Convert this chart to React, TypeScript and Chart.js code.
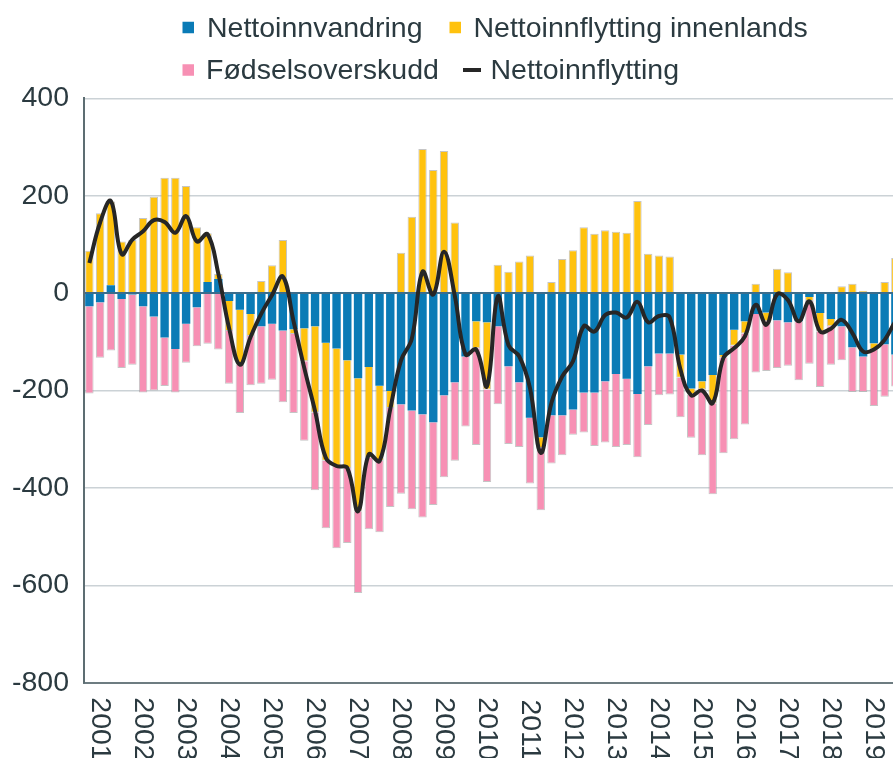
import React, { useEffect, useRef } from "react";
import { Chart, registerables } from "chart.js";

Chart.register(...registerables);

// Quarters (K = kvartal)
const quarters = [
  "2000K4",
  "2001K1","2001K2","2001K3","2001K4",
  "2002K1","2002K2","2002K3","2002K4",
  "2003K1","2003K2","2003K3","2003K4",
  "2004K1","2004K2","2004K3","2004K4",
  "2005K1","2005K2","2005K3","2005K4",
  "2006K1","2006K2","2006K3","2006K4",
  "2007K1","2007K2","2007K3","2007K4",
  "2008K1","2008K2","2008K3","2008K4",
  "2009K1","2009K2","2009K3","2009K4",
  "2010K1","2010K2","2010K3","2010K4",
  "2011K1","2011K2","2011K3","2011K4",
  "2012K1","2012K2","2012K3","2012K4",
  "2013K1","2013K2","2013K3","2013K4",
  "2014K1","2014K2","2014K3","2014K4",
  "2015K1","2015K2","2015K3","2015K4",
  "2016K1","2016K2","2016K3","2016K4",
  "2017K1","2017K2","2017K3","2017K4",
  "2018K1","2018K2","2018K3","2018K4",
  "2019K1","2019K2","2019K3","2019K4",
];

const nettoinnvandring = [
  -27, -19, 16, -12, -3, -27, -48, -91, -115, -63,
  -29, 23, 29, -16, -34, -43, -68, -63, -77, -74,
  -72, -68, -102, -114, -138, -175, -152, -190, -201, -228,
  -241, -249, -265, -210, -183, -130, -58, -60, -68, -150,
  -183, -256, -296, -251, -251, -239, -204, -204, -181, -166,
  -176, -207, -150, -124, -124, -126, -196, -181, -168, -127,
  -75, -58, -43, -40, -56, -60, -58, -8, -41, -53,
  -68, -111, -130, -103, -105, -126, -95,
];

const innenlands = [
  87, 164, 172, 106, 109, 154, 198, 237, 237, 220,
  135, 100, 10, -62, -113, -45, 25, 57, 109, -10,
  -68, -177, -242, -241, -221, -273, -186, -155, -35, 83,
  157, 296, 253, 292, 145, 0, -55, -138, 58, 44,
  65, 77, -22, 23, 70, 88, 135, 122, 129, 126,
  124, 189, 81, 77, 75, -48, -12, -17, -58, -6,
  -33, -25, 19, -18, 50, 43, 0, -8, -38, -15,
  14, 19, 5, -13, 23, 72, 35,
];

const fodselsoverskudd = [
  -179, -114, -118, -142, -144, -177, -152, -100, -89, -80,
  -80, -104, -116, -108, -99, -101, -118, -115, -147, -162,
  -163, -160, -139, -169, -154, -168, -147, -146, -203, -184,
  -203, -212, -170, -168, -161, -144, -199, -190, -160, -160,
  -133, -135, -128, -99, -82, -52, -82, -110, -126, -150,
  -136, -130, -121, -86, -84, -81, -89, -135, -187, -196,
  -192, -187, -120, -102, -98, -89, -121, -129, -114, -79,
  -70, -92, -73, -116, -108, -66, -100,
];

const nettoinnflytting = [
  62, 145, 189, 80, 110, 127, 150, 146, 124, 158,
  106, 121, 40, -72, -147, -90, -42, -4, 34, -58,
  -154, -242, -338, -355, -359, -448, -331, -345, -238, -138,
  -94, 44, -3, 85, -5, -126, -116, -191, -7, -107,
  -130, -195, -328, -225, -171, -140, -68, -79, -45, -40,
  -50, -18, -60, -47, -50, -157, -210, -200, -226, -133,
  -113, -89, -24, -65, -2, -14, -58, -17, -79, -73,
  -55, -82, -120, -116, -96, -58, -30,
];

const seriesNames = [
  "Nettoinnvandring",
  "Nettoinnflytting innenlands",
  "Fødselsoverskudd",
  "Nettoinnflytting",
];

const BLUE = "#0a7bb6";
const YELLOW = "#ffc20e";
const PINK = "#f790b4";
const LINE = "#262626";
const EDGE = "rgba(150,150,150,0.55)";
const TEXT = "#2b3a40";
const FONT_FAMILY = '"Liberation Sans", Arial, Helvetica, sans-serif';
const FONT_SIZE = 28.5;

// legend placement (marker x, marker y centre, text x, text baseline)
const legendLayout = [
  { ds: 0, mx: 182.5, my: 27.5, tx: 207, ty: 37 },
  { ds: 1, mx: 449.5, my: 27.5, tx: 473.5, ty: 37 },
  { ds: 2, mx: 182.5, my: 70, tx: 206, ty: 79 },
  { ds: 3, mx: 463, my: 70, tx: 490.5, ty: 79 },
];

const legendPlugin = {
  id: "customLegend",
  afterDraw(chart: any) {
    const ctx = chart.ctx;
    ctx.save();
    ctx.font = `${FONT_SIZE}px ${FONT_FAMILY}`;
    ctx.textBaseline = "alphabetic";
    ctx.textAlign = "left";
    legendLayout.forEach((it) => {
      const ds = chart.data.datasets[it.ds];
      if (ds.type === "line") {
        ctx.strokeStyle = ds.borderColor;
        ctx.lineWidth = 4;
        ctx.beginPath();
        ctx.moveTo(it.mx, it.my);
        ctx.lineTo(it.mx + 18, it.my);
        ctx.stroke();
      } else {
        ctx.fillStyle = ds.backgroundColor;
        ctx.fillRect(it.mx, it.my - 5.75, 11.5, 11.5);
      }
      ctx.fillStyle = TEXT;
      ctx.fillText(ds.label, it.tx, it.ty);
    });
    ctx.restore();
  },
};

export default function App() {
  const canvasRef = useRef<HTMLCanvasElement | null>(null);

  useEffect(() => {
    if (!canvasRef.current) return;
    Chart.defaults.font.family = FONT_FAMILY;
    Chart.defaults.font.size = FONT_SIZE;
    Chart.defaults.color = TEXT;

    const chart = new Chart(canvasRef.current, {
      data: {
        labels: quarters,
        datasets: [
          {
            type: "bar",
            label: seriesNames[0],
            data: nettoinnvandring,
            backgroundColor: BLUE,
            borderWidth: 0,
            stack: "bars",
            order: 1,
          },
          {
            type: "bar",
            label: seriesNames[1],
            data: innenlands,
            backgroundColor: YELLOW,
            borderColor: EDGE,
            borderWidth: 1,
            stack: "bars",
            order: 1,
          },
          {
            type: "bar",
            label: seriesNames[2],
            data: fodselsoverskudd,
            backgroundColor: PINK,
            borderColor: EDGE,
            borderWidth: 1,
            stack: "bars",
            order: 1,
          },
          {
            type: "line",
            label: seriesNames[3],
            data: nettoinnflytting,
            borderColor: LINE,
            backgroundColor: LINE,
            borderWidth: 4,
            pointRadius: 0,
            tension: 0.4,
            fill: false,
            stack: "line",
            order: 0,
          },
        ],
      } as any,
      options: {
        animation: false,
        responsive: false,
        locale: "en-US",
        datasets: {
          bar: { barPercentage: 0.78, categoryPercentage: 1 },
        },
        layout: { padding: { left: 12, right: 4.5, top: 98.3, bottom: 7.3 } },
        plugins: {
          legend: { display: false },
          tooltip: { enabled: false },
        },
        scales: {
          x: {
            stacked: true,
            offset: true,
            grid: { display: false, drawTicks: false },
            border: { display: true, color: "#6d7c81", width: 2 },
            ticks: {
              autoSkip: false,
              minRotation: -90,
              maxRotation: -90,
              padding: 78,
              color: TEXT,
              font: { size: FONT_SIZE },
              callback: (_v: any, i: number) => {
                const q = quarters[i];
                return q && q.endsWith("K1") ? q.slice(0, 4) : "";
              },
            },
            afterFit: (a: any) => {
              a.height = 80;
              a.paddingLeft = 0;
              a.paddingRight = 0;
            },
          },
          y: {
            stacked: true,
            min: -800,
            max: 400,
            ticks: {
              stepSize: 200,
              padding: 15,
              color: TEXT,
              font: { size: FONT_SIZE },
            },
            grid: {
              drawTicks: false,
              color: (c: any) => (c.tick && c.tick.value === 0 ? "#3b6d8c" : "#cbd2d6"),
              lineWidth: (c: any) => (c.tick && c.tick.value === 0 ? 2 : 1.5),
            },
            border: { display: true, color: "#5d6d72", width: 2 },
            afterFit: (a: any) => {
              a.width = 72;
            },
          },
        },
      } as any,
      plugins: [legendPlugin],
    });
    return () => chart.destroy();
  }, []);

  return (
    <div
      style={{
        position: "fixed",
        left: 0,
        top: 0,
        width: 893,
        height: 758,
        overflow: "hidden",
        background: "#fff",
      }}
    >
      <canvas ref={canvasRef} width={916} height={770} style={{ display: "block" }} />
    </div>
  );
}
